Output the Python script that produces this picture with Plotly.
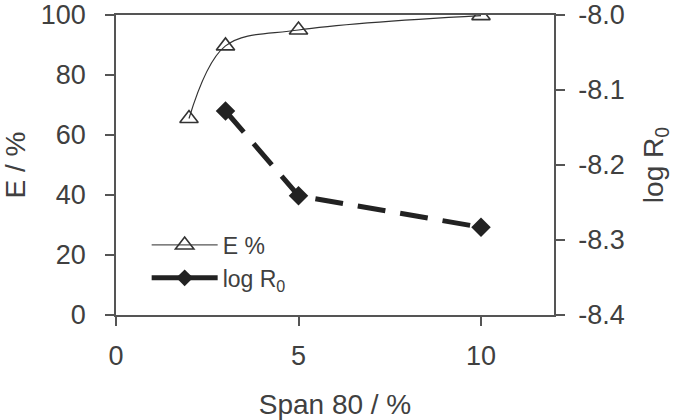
import plotly.graph_objects as go

span_e = [2, 3, 5, 10]
e_pct = [65.5, 89.7, 95.0, 99.8]
span_r = [3, 5, 10]
log_r0 = [-8.128, -8.241, -8.283]

x_ticks = [0, 5, 10]
y_ticks = [0, 20, 40, 60, 80, 100]
y2_ticks = [-8.4, -8.3, -8.2, -8.1, -8.0]
y2_labels = ["-8.4", "-8.3", "-8.2", "-8.1", "-8.0"]

TXT = "#404040"
AX = "#555555"
FONT = "Liberation Sans, Arial, sans-serif"

fig = go.Figure()
fig.add_trace(go.Scatter(
    x=span_e, y=e_pct, mode="lines+markers", name="E %", showlegend=False,
    line=dict(color="#333333", width=1.2, shape="spline", smoothing=1.0),
    marker=dict(symbol="triangle-up-open", size=16, color="#333333", line=dict(width=1.6)),
))
fig.add_trace(go.Scatter(
    x=span_r, y=log_r0, mode="lines+markers", name="log R<sub>0</sub>", showlegend=False,
    yaxis="y2",
    line=dict(color="#222222", width=5, dash="28px,15px"),
    marker=dict(symbol="diamond", size=15, color="#222222"),
))
# legend entries (solid line samples)
fig.add_trace(go.Scatter(
    x=[None], y=[None], mode="lines+markers", name="E %",
    line=dict(color="#555555", width=1.2),
    marker=dict(symbol="triangle-up-open", size=16, color="#333333", line=dict(width=1.6)),
))
fig.add_trace(go.Scatter(
    x=[None], y=[None], mode="lines+markers", name="log R<sub>0</sub>",
    line=dict(color="#222222", width=5),
    marker=dict(symbol="diamond", size=13, color="#222222"),
))

fig.update_layout(
    width=675, height=420,
    margin=dict(l=116, r=121, t=15, b=105),
    paper_bgcolor="white", plot_bgcolor="white",
    font=dict(family=FONT, color=TXT, size=27),
    showlegend=True,
    legend=dict(x=0.07, y=0.305, xanchor="left", yanchor="top",
                font=dict(size=23, color=TXT), bgcolor="rgba(0,0,0,0)",
                itemwidth=66, tracegroupgap=0),
    xaxis=dict(range=[0, 12], tickvals=x_ticks, showgrid=False, zeroline=False,
               automargin=False,
               showline=True, linecolor=AX, linewidth=1.5, mirror=True,
               ticks="outside", ticklen=9, tickcolor=AX, tickwidth=1.5,
               ticklabelstandoff=7,
               tickfont=dict(size=27, color=TXT),
               title=dict(text="Span 80 / %", font=dict(size=28, color=TXT), standoff=28)),
    yaxis=dict(range=[0, 100], tickvals=y_ticks, showgrid=False, zeroline=False,
               automargin=False,
               showline=True, linecolor=AX, linewidth=1.5,
               ticks="outside", ticklen=9, tickcolor=AX, tickwidth=1.5,
               ticklabelstandoff=14,
               tickfont=dict(size=27, color=TXT),
               title=dict(text="E / %", font=dict(size=28, color=TXT), standoff=20)),
    yaxis2=dict(range=[-8.4, -8.0], tickvals=y2_ticks, ticktext=y2_labels,
                overlaying="y", side="right", showgrid=False, zeroline=False,
                automargin=False,
                showline=True, linecolor=AX, linewidth=1.5,
                ticks="outside", ticklen=9, tickcolor=AX, tickwidth=1.5,
                ticklabelstandoff=8,
                tickfont=dict(size=27, color=TXT),
                title=dict(text="log R<sub>0</sub>", font=dict(size=28, color=TXT), standoff=20)),
)
fig.write_html("out.html")
